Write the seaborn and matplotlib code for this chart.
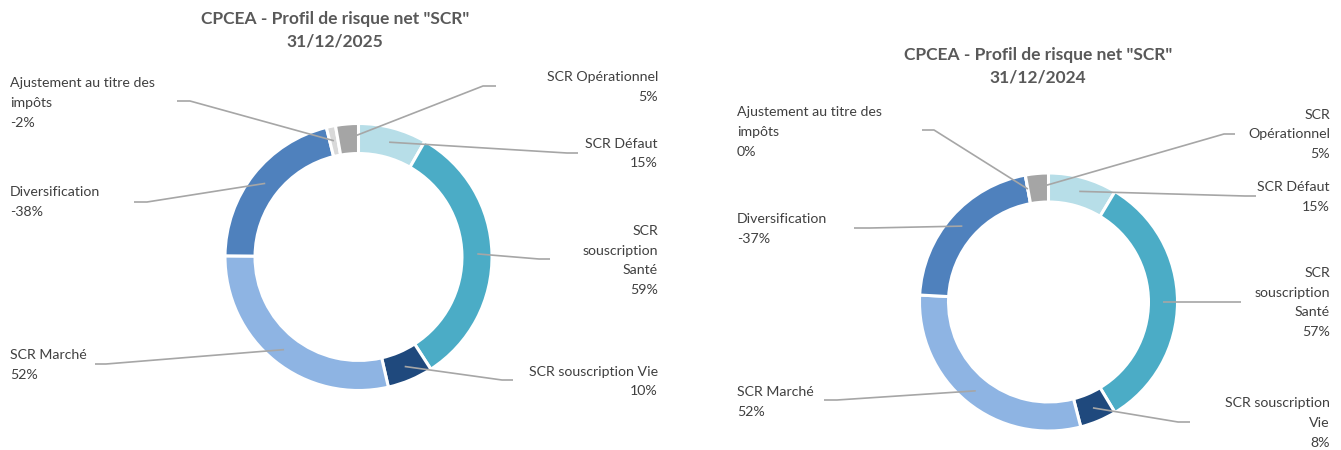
import numpy as np
import matplotlib
matplotlib.use("Agg")
import matplotlib.pyplot as plt
import seaborn as sns

# ── data ────────────────────────────────────────────────────────────────
categories = ["SCR Défaut", "SCR souscription Santé", "SCR souscription Vie",
              "SCR Marché", "Diversification", "Ajustement au titre des impôts",
              "SCR Opérationnel"]
values_2025 = [15, 59, 10, 52, -38, -2, 5]
values_2024 = [15, 57, 8, 52, -37, 0, 5]

# label texts as wrapped in each chart
labels_2025 = ["SCR Défaut", "SCR\nsouscription\nSanté", "SCR souscription Vie",
               "SCR Marché", "Diversification", "Ajustement au titre des\nimpôts",
               "SCR Opérationnel"]
labels_2024 = ["SCR Défaut", "SCR\nsouscription\nSanté", "SCR souscription\nVie",
               "SCR Marché", "Diversification", "Ajustement au titre des\nimpôts",
               "SCR\nOpérationnel"]
titles = ['CPCEA - Profil de risque net "SCR"\n31/12/2025',
          'CPCEA - Profil de risque net "SCR"\n31/12/2024']

colors = ["#b7dee8", "#4bacc6", "#1f497d", "#8eb4e3", "#4f81bd", "#d9d9d9", "#a5a5a5"]

# ── layout (pixels, y from top) ─────────────────────────────────────────
W, H = 1341, 450
charts = [
    dict(values=values_2025, labels=labels_2025, title=titles[0],
         center=(358.5, 257), R=133.5, title_xy=(335, 30),
         # text: (x, ha, y of block centre)
         text=[(658, "right", 153.5), (658, "right", 260.5), (658, "right", 381.5),
               (10, "left", 365), (10, "left", 202), (10, "left", 103),
               (658, "right", 87)],
         # leader: knee, tail
         lead=[((567, 153), (578, 153)), ((539, 259), (550, 259)),
               ((502, 380), (513, 380)), ((106, 364), (95, 364)),
               ((147, 202), (134, 202)), ((190, 101), (177, 101)),
               ((483, 86), (496, 86))]),
    dict(values=values_2024, labels=labels_2024, title=titles[1],
         center=(1048.5, 302), R=129, title_xy=(1038, 66),
         text=[(1330, "right", 197), (1330, "right", 302.5), (1330, "right", 423),
               (737, "left", 402), (737, "left", 229), (737, "left", 132),
               (1330, "right", 134.5)],
         lead=[((1245, 196), (1256, 196)), ((1230, 302), (1241, 302)),
               ((1178, 422), (1190, 422)), ((837, 400), (824, 400)),
               ((870, 228), (854, 228)), ((934, 130), (922, 130)),
               ((1224, 134), (1235, 134))]),
]

sns.set_theme(style="white")
plt.rcParams["font.family"] = ["Lato", "DejaVu Sans"]

fig = plt.figure(figsize=(W / 100, H / 100), dpi=100)
ax = fig.add_axes([0, 0, 1, 1])

for ch in charts:
    cx, cy = ch["center"]
    R = ch["R"]
    wedges, _ = ax.pie(np.abs(ch["values"]), colors=colors, startangle=90,
                       counterclock=False, center=(cx, H - cy), radius=R,
                       wedgeprops=dict(width=0.225 * R, edgecolor="white", linewidth=2.2))

    for w, lab, v, (tx, ha, ty), (knee, tail) in zip(
            wedges, ch["labels"], ch["values"], ch["text"], ch["lead"]):
        mid = np.deg2rad((w.theta1 + w.theta2) / 2)
        r = 0.89 * R
        px, py = cx + r * np.cos(mid), (H - cy) + r * np.sin(mid)
        ax.plot([px, knee[0], tail[0]], [py, H - knee[1], H - tail[1]],
                color="#a6a6a6", lw=1.2, solid_capstyle="butt")
        ax.text(tx, H - ty, f"{lab}\n{v}%", ha=ha, va="center", fontsize=10.2,
                color="#404040", linespacing=1.78, multialignment=ha)

    ax.text(ch["title_xy"][0], H - ch["title_xy"][1], ch["title"], ha="center",
            va="center", fontsize=12.5, fontweight="bold", color="#595959",
            linespacing=1.5)

ax.set_xlim(0, W)
ax.set_ylim(0, H)
ax.set_aspect("auto")
ax.axis("off")

fig.savefig("out.png", dpi=100, facecolor="white")
